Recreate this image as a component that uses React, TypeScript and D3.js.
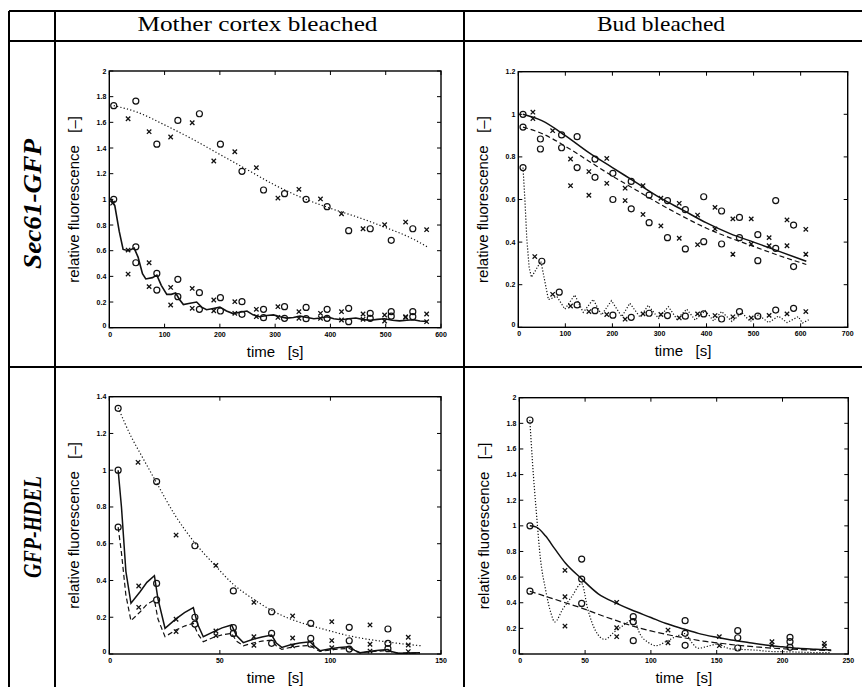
import React from "react";
import * as d3 from "d3";

type Pt = [number, number];

// ---------- Sec61-GFP, mother cortex bleached ----------
const secMotherDotted: Pt[] = [[8, 1.73], [50, 1.68], [100, 1.58], [150, 1.47], [200, 1.35], [250, 1.23], [300, 1.11], [350, 1.01], [400, 0.93], [450, 0.86], [500, 0.78], [550, 0.69], [575, 0.63]];
const secMotherSolid: Pt[] = [[4, 1.0], [10, 0.95], [18, 0.75], [25, 0.61], [35, 0.6], [45, 0.62], [52, 0.55], [60, 0.42], [66, 0.38], [78, 0.39], [86, 0.41], [94, 0.33], [104, 0.26], [112, 0.26], [120, 0.27], [127, 0.22], [134, 0.18], [146, 0.19], [158, 0.2], [167, 0.16], [176, 0.14], [188, 0.15], [200, 0.16], [212, 0.13], [224, 0.11], [236, 0.12], [249, 0.13], [260, 0.1], [272, 0.085], [285, 0.095], [297, 0.1], [309, 0.085], [321, 0.075], [333, 0.08], [345, 0.09], [358, 0.08], [370, 0.07], [382, 0.075], [394, 0.085], [406, 0.07], [420, 0.062], [433, 0.07], [446, 0.075], [460, 0.063], [472, 0.058], [485, 0.065], [498, 0.07], [512, 0.058], [525, 0.053], [538, 0.058], [550, 0.062], [562, 0.052], [575, 0.048]];
const secMotherCircles: Pt[] = [[8, 1.73], [48, 1.766], [86, 1.43], [124, 1.615], [163, 1.667], [201, 1.43], [240, 1.218], [279, 1.073], [317, 1.044], [356, 1.0], [394, 0.943], [433, 0.756], [472, 0.771], [510, 0.681], [549, 0.771],
  [8, 1.0], [48, 0.63], [48, 0.506], [86, 0.423], [86, 0.293], [124, 0.377], [124, 0.242], [163, 0.273], [163, 0.143], [201, 0.234], [201, 0.13], [240, 0.203], [240, 0.104], [279, 0.143], [279, 0.078], [317, 0.164], [317, 0.073], [356, 0.158], [356, 0.07], [394, 0.143], [394, 0.073], [433, 0.151], [433, 0.047], [472, 0.112], [472, 0.073], [510, 0.125], [510, 0.09], [549, 0.125], [549, 0.086]];
const secMotherCrosses: Pt[] = [[34, 1.628], [72, 1.527], [111, 1.486], [150, 1.597], [189, 1.299], [227, 1.371], [266, 1.247], [305, 1.01], [343, 1.078], [382, 1.003], [420, 0.888], [459, 0.771], [498, 0.803], [536, 0.823], [574, 0.764],
  [6, 0.97], [34, 0.605], [34, 0.418], [72, 0.506], [72, 0.32], [111, 0.314], [111, 0.177], [150, 0.306], [150, 0.151], [189, 0.216], [189, 0.132], [227, 0.203], [227, 0.112], [266, 0.143], [266, 0.086], [305, 0.164], [305, 0.08], [343, 0.125], [343, 0.073], [382, 0.112], [382, 0.073], [420, 0.125], [420, 0.06], [459, 0.107], [459, 0.065], [498, 0.099], [498, 0.052], [536, 0.086], [536, 0.08], [574, 0.107], [574, 0.047]];

// ---------- Sec61-GFP, bud bleached ----------
const secBudSolid: Pt[] = [[10, 1.0], [50, 0.97], [100, 0.9], [150, 0.82], [200, 0.75], [250, 0.68], [300, 0.61], [350, 0.55], [400, 0.49], [450, 0.44], [500, 0.4], [550, 0.36], [612, 0.31]];
const secBudDashed: Pt[] = [[10, 0.94], [50, 0.91], [100, 0.85], [150, 0.78], [200, 0.71], [250, 0.645], [300, 0.58], [350, 0.52], [400, 0.465], [450, 0.42], [500, 0.38], [550, 0.34], [612, 0.295]];
const secBudDotted: Pt[] = [[10, 0.75], [14, 0.6], [18, 0.42], [23, 0.28], [28, 0.235], [48, 0.31], [64, 0.13], [82, 0.145], [99, 0.085], [120, 0.152], [138, 0.07], [159, 0.131], [177, 0.058], [198, 0.125], [220, 0.05], [237, 0.113], [259, 0.047], [276, 0.103], [298, 0.042], [319, 0.097], [337, 0.038], [358, 0.085], [376, 0.034], [397, 0.078], [415, 0.03], [432, 0.074], [454, 0.027], [475, 0.069], [493, 0.027], [510, 0.058], [532, 0.022], [553, 0.053], [571, 0.022], [595, 0.05], [604, 0.02], [617, 0.035]];
const secBudCircles: Pt[] = [[10, 1.0], [10, 0.94], [47, 0.884], [47, 0.837], [92, 0.903], [92, 0.843], [125, 0.895], [125, 0.75], [163, 0.79], [163, 0.704], [201, 0.723], [201, 0.6], [240, 0.685], [240, 0.556], [278, 0.621], [278, 0.491], [317, 0.595], [317, 0.421], [355, 0.552], [355, 0.368], [394, 0.613], [394, 0.402], [432, 0.546], [432, 0.391], [470, 0.516], [470, 0.421], [509, 0.435], [509, 0.313], [547, 0.595], [547, 0.371], [585, 0.48], [585, 0.285],
  [10, 0.75], [50, 0.31], [87, 0.165], [125, 0.105], [163, 0.078], [201, 0.057], [240, 0.047], [278, 0.066], [317, 0.055], [355, 0.052], [394, 0.063], [432, 0.039], [470, 0.074], [509, 0.052], [547, 0.081], [585, 0.089]];
const secBudCrosses: Pt[] = [[31, 1.01], [31, 0.98], [73, 0.923], [111, 0.79], [111, 0.665], [150, 0.731], [150, 0.62], [188, 0.793], [188, 0.676], [227, 0.653], [227, 0.595], [265, 0.665], [265, 0.53], [303, 0.606], [303, 0.476], [342, 0.582], [342, 0.418], [381, 0.527], [381, 0.388], [418, 0.563], [418, 0.462], [456, 0.509], [456, 0.343], [495, 0.509], [495, 0.391], [533, 0.421], [533, 0.383], [571, 0.504], [571, 0.383], [611, 0.46], [611, 0.343],
  [35, 0.332], [73, 0.155], [111, 0.1], [150, 0.074], [188, 0.06], [227, 0.038], [265, 0.063], [303, 0.06], [342, 0.044], [381, 0.063], [418, 0.055], [456, 0.049], [495, 0.044], [533, 0.056], [571, 0.063], [611, 0.074]];

// ---------- GFP-HDEL, mother cortex bleached ----------
const hdelMotherDotted: Pt[] = [[4, 1.34], [10, 1.18], [15, 1.07], [21, 0.94], [30, 0.75], [39, 0.6], [48, 0.48], [56, 0.38], [65, 0.3], [73, 0.24], [82, 0.19], [91, 0.155], [100, 0.125], [108, 0.1], [117, 0.08], [126, 0.065], [135, 0.052], [141, 0.045]];
const hdelMotherSolid: Pt[] = [[4, 1.0], [5.5, 0.8], [7.5, 0.45], [9.8, 0.276], [14, 0.34], [17, 0.39], [20.4, 0.426], [22, 0.3], [25.2, 0.14], [30, 0.19], [34, 0.225], [38, 0.252], [40, 0.16], [42.5, 0.094], [47, 0.12], [51, 0.142], [55.3, 0.158], [57.5, 0.1], [60.6, 0.062], [65, 0.08], [69, 0.093], [73.4, 0.103], [75.5, 0.06], [78, 0.036], [82, 0.05], [86, 0.06], [90.8, 0.067], [93, 0.04], [95.3, 0.018], [100, 0.028], [104, 0.035], [108.5, 0.04], [111, 0.02], [113.4, 0.007], [118, 0.015], [122, 0.021], [126, 0.025], [128, 0.012], [130.7, 0.004], [135, 0.006], [140.5, 0.007]];
const hdelMotherDashed: Pt[] = [[4, 0.69], [5.5, 0.55], [7.5, 0.32], [9.8, 0.181], [14, 0.23], [17, 0.27], [20.4, 0.294], [22, 0.19], [25.2, 0.094], [30, 0.13], [34, 0.152], [38, 0.167], [40, 0.11], [42.5, 0.067], [47, 0.09], [51, 0.104], [55.3, 0.112], [57.5, 0.07], [60.6, 0.045], [65, 0.06], [69, 0.07], [73.4, 0.076], [75.5, 0.045], [78, 0.025], [82, 0.036], [86, 0.043], [90.8, 0.047], [93, 0.028], [95.3, 0.014], [100, 0.022], [104, 0.027], [108.5, 0.03], [111, 0.016], [113.4, 0.006], [118, 0.012], [122, 0.016], [126, 0.019], [128, 0.01], [130.7, 0.004], [135, 0.005], [140.5, 0.006]];
const hdelMotherCircles: Pt[] = [[4, 1.337], [21.4, 0.938], [38.7, 0.589], [56.1, 0.343], [73.4, 0.23], [91.1, 0.167], [108.5, 0.145], [126, 0.136],
  [4, 1.0], [4, 0.69], [21.4, 0.384], [21.4, 0.294], [38.7, 0.2], [38.7, 0.163], [56.1, 0.143], [56.1, 0.112], [73.4, 0.112], [73.4, 0.058], [91.1, 0.085], [91.1, 0.053], [108.5, 0.072], [108.5, 0.027], [126, 0.058], [126, 0.029]];
const hdelMotherCrosses: Pt[] = [[13, 1.043], [30.2, 0.647], [48.2, 0.482], [65.4, 0.281], [82.9, 0.207], [100.6, 0.176], [117.9, 0.158], [135.2, 0.091],
  [13.3, 0.37], [13.3, 0.254], [30.2, 0.189], [30.2, 0.122], [48.2, 0.125], [48.2, 0.1], [65.4, 0.094], [65.4, 0.047], [82.9, 0.087], [82.9, 0.044], [100.6, 0.073], [100.6, 0.034], [117.9, 0.053], [117.9, 0.016], [135.2, 0.049], [135.2, 0.013]];

// ---------- GFP-HDEL, bud bleached ----------
const hdelBudSolid: Pt[] = [[8, 1.0], [13, 0.99], [20, 0.92], [27, 0.82], [35, 0.71], [47, 0.59], [60, 0.47], [74, 0.395], [85, 0.345], [100, 0.285], [111, 0.24], [125, 0.195], [136, 0.161], [150, 0.13], [161, 0.109], [175, 0.088], [187, 0.07], [200, 0.056], [212, 0.044], [225, 0.037], [237, 0.031]];
const hdelBudDashed: Pt[] = [[8, 0.49], [20, 0.45], [35, 0.4], [47, 0.36], [60, 0.31], [74, 0.26], [87, 0.215], [100, 0.18], [113, 0.15], [126, 0.125], [140, 0.1], [152, 0.085], [166, 0.068], [180, 0.055], [192, 0.046], [206, 0.038], [220, 0.032], [237, 0.027]];
const hdelBudDotted: Pt[] = [[8, 1.826], [10, 1.5], [13, 1.1], [16, 0.75], [20, 0.5], [24, 0.32], [27, 0.25], [33, 0.35], [40, 0.45], [47.4, 0.55], [52, 0.35], [58, 0.18], [65, 0.114], [72, 0.17], [80, 0.23], [86.6, 0.27], [92, 0.15], [98, 0.09], [104, 0.065], [112, 0.1], [120, 0.14], [126, 0.16], [131, 0.09], [136, 0.045], [143, 0.06], [151, 0.078], [156, 0.055], [161, 0.04], [170, 0.035], [180, 0.03], [190, 0.02], [200, 0.018], [215, 0.014], [230, 0.01], [237, 0.01]];
const hdelBudCircles: Pt[] = [[8.1, 1.826], [8.1, 1.0], [8.1, 0.49], [47.4, 0.741], [47.4, 0.585], [47.4, 0.395], [86.6, 0.291], [86.6, 0.252], [86.6, 0.104], [126, 0.26], [126, 0.161], [126, 0.068], [166, 0.182], [166, 0.127], [166, 0.047], [205.7, 0.13], [205.7, 0.096], [205.7, 0.052]];
const hdelBudCrosses: Pt[] = [[34.7, 0.653], [34.7, 0.447], [34.7, 0.218], [74, 0.403], [74, 0.205], [74, 0.135], [113, 0.187], [113, 0.088], [152, 0.135], [152, 0.065], [192, 0.096], [192, 0.07], [231.8, 0.083], [231.8, 0.062]];

// ---------- ticks & labels ----------
const ticks2 = [0, 0.2, 0.4, 0.6, 0.8, 1, 1.2, 1.4, 1.6, 1.8, 2];
const ticks12 = [0, 0.2, 0.4, 0.6, 0.8, 1, 1.2];
const ticks14 = [0, 0.2, 0.4, 0.6, 0.8, 1, 1.2, 1.4];
const xTicks600 = [0, 100, 200, 300, 400, 500, 600];
const xTicks700 = [0, 100, 200, 300, 400, 500, 600, 700];
const xTicks150 = [0, 50, 100, 150];
const xTicks250 = [0, 50, 100, 150, 200, 250];
const columnTitles = ["Mother cortex bleached", "Bud bleached"];
const rowTitles = ["Sec61-GFP", "GFP-HDEL"];

type Series = { pts: Pt[]; dash?: string; smooth?: boolean; width?: number };

type PanelProps = {
  x0: number; x1: number; y0: number; y1: number;
  xMax: number; yMax: number; xTicks: number[]; yTicks: number[];
  lines: Series[]; circles: Pt[]; crosses: Pt[];
};

const Panel = ({ x0, x1, y0, y1, xMax, yMax, xTicks, yTicks, lines, circles, crosses }: PanelProps) => {
  const x = d3.scaleLinear().domain([0, xMax]).range([x0, x1]);
  const y = d3.scaleLinear().domain([0, yMax]).range([y1, y0]);
  const fmt = (v: number) => String(+v.toFixed(1));
  const tk = 4;
  return (
    <g>
      {lines.map((s, i) => {
        const line = d3.line<Pt>().x(d => x(d[0])).y(d => y(d[1]))
          .curve(s.smooth ? d3.curveMonotoneX : d3.curveLinear);
        return <path key={i} d={line(s.pts) || ""} fill="none" stroke="#111"
          strokeWidth={s.width || 1.2} strokeDasharray={s.dash} />;
      })}
      {circles.map((d, i) => (
        <circle key={"c" + i} cx={x(d[0])} cy={y(d[1])} r={3} fill="none" stroke="#111" strokeWidth={1.2} />
      ))}
      {crosses.map((d, i) => (
        <path key={"x" + i} transform={`translate(${x(d[0])},${y(d[1])})`}
          d="M-2.2,-2.2L2.2,2.2M-2.2,2.2L2.2,-2.2" stroke="#111" strokeWidth={1.3} />
      ))}
      <rect x={x0} y={y0} width={x1 - x0} height={y1 - y0} fill="none" stroke="#000" strokeWidth={1.4} />
      {xTicks.map(t => (
        <g key={"xt" + t}>
          <line x1={x(t)} x2={x(t)} y1={y1} y2={y1 - tk} stroke="#000" />
          <line x1={x(t)} x2={x(t)} y1={y0} y2={y0 + tk} stroke="#000" />
          <text x={x(t) + (t === 0 ? 1 : 0)} y={y1 + 9} fontSize={7} fontWeight="bold" textAnchor="middle"
            fontFamily="Liberation Sans, Arial, sans-serif">{t}</text>
        </g>
      ))}
      {yTicks.map(t => (
        <g key={"yt" + t}>
          <line x1={x0} x2={x0 + tk} y1={y(t)} y2={y(t)} stroke="#000" />
          <line x1={x1} x2={x1 - tk} y1={y(t)} y2={y(t)} stroke="#000" />
          <text x={x0 - 3} y={y(t) + (t === 0 ? 0 : 2.5)} fontSize={7} fontWeight="bold" textAnchor="end"
            fontFamily="Liberation Sans, Arial, sans-serif">{fmt(t)}</text>
        </g>
      ))}
      <text x={(x0 + x1) / 2} y={y1 + 29} fontSize={15} textAnchor="middle" style={{ whiteSpace: "pre" }}
        fontFamily="Liberation Sans, Arial, sans-serif">{"time   [s]"}</text>
      <text transform={`translate(${x0 - 30},${(y0 + y1) / 2}) rotate(-90)`} fontSize={15} textAnchor="middle"
        style={{ whiteSpace: "pre" }} fontFamily="Liberation Sans, Arial, sans-serif">{"relative fluorescence   [–]"}</text>
    </g>
  );
};

export default function App() {
  const W = 862, H = 687;
  const colX = [9, 55, 464, 862];
  const rowY = [11, 41, 367, 687];
  return (
    <svg width={W} height={H} style={{ position: "absolute", left: 0, top: 0, background: "#fff" }}>
      <rect width={W} height={H} fill="#fff" />
      {/* table grid */}
      <g stroke="#000" strokeWidth={2}>
        <line x1={colX[0]} x2={W} y1={rowY[0]} y2={rowY[0]} />
        <line x1={colX[0]} x2={W} y1={rowY[1]} y2={rowY[1]} />
        <line x1={colX[0]} x2={W} y1={rowY[2]} y2={rowY[2]} />
        <line x1={colX[0]} x2={colX[0]} y1={rowY[0]} y2={H} />
        <line x1={colX[1]} x2={colX[1]} y1={rowY[0]} y2={H} />
        <line x1={colX[2]} x2={colX[2]} y1={rowY[0]} y2={H} />
      </g>
      {columnTitles.map((t, i) => (
        <text key={t} x={(colX[i + 1] + colX[i + 2]) / 2 - 2} y={31} fontSize={21} textAnchor="middle"
          textLength={i === 0 ? 240 : 128} lengthAdjust="spacingAndGlyphs"
          fontFamily="Liberation Serif, Times New Roman, serif">{t}</text>
      ))}
      {rowTitles.map((t, i) => (
        <text key={t} transform={`translate(41,${(rowY[i + 1] + rowY[i + 2]) / 2}) rotate(-90)`} fontSize={25}
          fontStyle="italic" fontWeight="bold" textAnchor="middle" textLength={i === 0 ? 130 : 102}
          lengthAdjust="spacingAndGlyphs" fontFamily="Liberation Serif, Times New Roman, serif">{t}</text>
      ))}
      <Panel x0={109.3} x1={441} y0={71} y1={327.7} xMax={600} yMax={2} xTicks={xTicks600} yTicks={ticks2}
        lines={[{ pts: secMotherDotted, dash: "1.2,2.2", smooth: true }, { pts: secMotherSolid, width: 1.6 }]}
        circles={secMotherCircles} crosses={secMotherCrosses} />
      <Panel x0={518.3} x1={847.7} y0={71.7} y1={327.3} xMax={700} yMax={1.2} xTicks={xTicks700} yTicks={ticks12}
        lines={[{ pts: secBudSolid, smooth: true, width: 1.5 }, { pts: secBudDashed, dash: "5,3", smooth: true }, { pts: secBudDotted, dash: "1.2,1.8" }]}
        circles={secBudCircles} crosses={secBudCrosses} />
      <Panel x0={109.3} x1={441} y0={396.7} y1={654} xMax={150} yMax={1.4} xTicks={xTicks150} yTicks={ticks14}
        lines={[{ pts: hdelMotherDotted, dash: "1.2,2.2", smooth: true }, { pts: hdelMotherSolid, width: 1.5 }, { pts: hdelMotherDashed, dash: "5,3" }]}
        circles={hdelMotherCircles} crosses={hdelMotherCrosses} />
      <Panel x0={519.3} x1={848.3} y0={397.7} y1={654} xMax={250} yMax={2} xTicks={xTicks250} yTicks={ticks2}
        lines={[{ pts: hdelBudSolid, smooth: true, width: 1.5 }, { pts: hdelBudDashed, dash: "6,3", smooth: true }, { pts: hdelBudDotted, dash: "1.2,1.8", smooth: true }]}
        circles={hdelBudCircles} crosses={hdelBudCrosses} />
    </svg>
  );
}
